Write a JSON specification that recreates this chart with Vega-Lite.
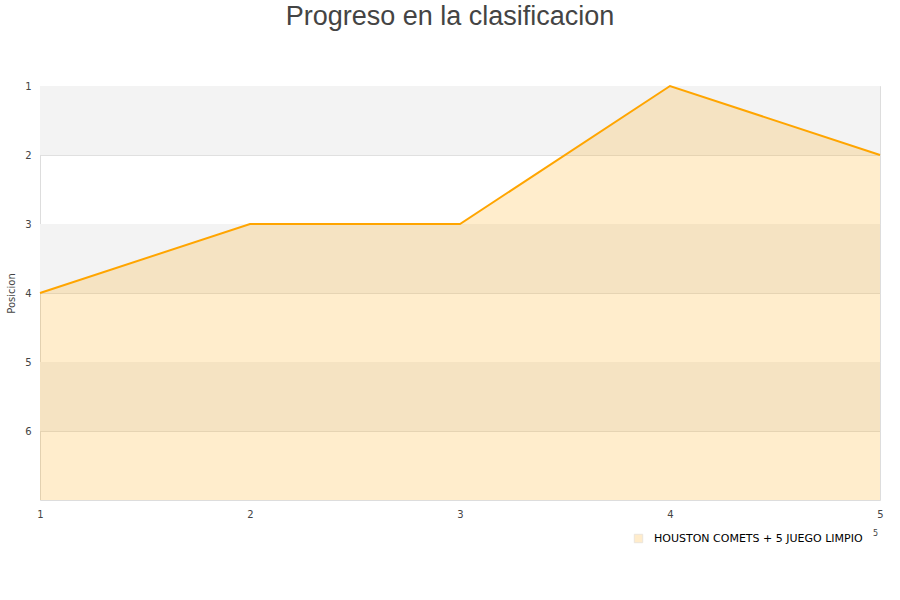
{
  "$schema": "https://vega.github.io/schema/vega-lite/v6.json",
  "autosize": {"type": "none"},
  "width": 840,
  "height": 414,
  "padding": {"left": 40, "top": 86, "right": 20, "bottom": 100},
  "title": {
    "text": "Progreso en la clasificacion",
    "font": "Liberation Sans",
    "fontSize": 27,
    "fontWeight": "normal",
    "color": "#444444",
    "anchor": "middle",
    "dx": -10,
    "offset": 50
  },
  "config": {
    "view": {"stroke": "#dddddd", "strokeWidth": 1},
    "axis": {
      "labelFont": "DejaVu Sans",
      "labelFontSize": 10,
      "labelColor": "#444444",
      "titleFont": "DejaVu Sans",
      "titleFontWeight": "normal",
      "titleColor": "#444444",
      "domain": false,
      "ticks": false,
      "format": "d"
    }
  },
  "data": {
    "values": [
      {"jornada": 1, "posicion": 4, "equipo": "HOUSTON COMETS + 5 JUEGO LIMPIO"},
      {"jornada": 2, "posicion": 3, "equipo": "HOUSTON COMETS + 5 JUEGO LIMPIO"},
      {"jornada": 3, "posicion": 3, "equipo": "HOUSTON COMETS + 5 JUEGO LIMPIO"},
      {"jornada": 4, "posicion": 1, "equipo": "HOUSTON COMETS + 5 JUEGO LIMPIO"},
      {"jornada": 5, "posicion": 2, "equipo": "HOUSTON COMETS + 5 JUEGO LIMPIO"}
    ]
  },
  "layer": [
    {
      "data": {"values": [{"desde": 1, "hasta": 2}, {"desde": 3, "hasta": 4}, {"desde": 5, "hasta": 6}]},
      "mark": {"type": "rect", "color": "#f3f3f3"},
      "encoding": {
        "y": {"field": "desde", "type": "quantitative", "scale": {"domain": [1, 7], "reverse": true}},
        "y2": {"field": "hasta"}
      }
    },
    {
      "mark": {"type": "area", "color": "#FFA500", "opacity": 0.2},
      "encoding": {
        "x": {
          "field": "jornada",
          "type": "quantitative",
          "scale": {"domain": [1, 5], "nice": false},
          "axis": {
            "values": [1, 2, 3, 4, 5],
            "grid": false,
            "labelFlush": false,
            "labelPadding": 9,
            "title": "5",
            "titleFontSize": 8,
            "titleX": 835,
            "titleY": 29
          }
        },
        "y": {
          "field": "posicion",
          "type": "quantitative",
          "scale": {"domain": [1, 7], "reverse": true, "nice": false, "zero": false},
          "axis": {
            "values": [1, 2, 3, 4, 5, 6],
            "grid": true,
            "gridColor": "#e0e0e0",
            "labelFlush": false,
            "labelPadding": 9,
            "title": "Posicion",
            "titleFontSize": 10,
            "titlePadding": 8
          }
        },
        "y2": {"datum": 7},
        "color": {
          "field": "equipo",
          "type": "nominal",
          "scale": {"range": ["#FFA500"]},
          "legend": {
            "title": null,
            "orient": "none",
            "legendX": 593,
            "legendY": 447,
            "symbolType": "square",
            "symbolSize": 70,
            "symbolStrokeColor": "#a08050",
            "symbolStrokeWidth": 1,
            "labelOffset": 10,
            "labelLimit": 400,
            "labelFont": "DejaVu Sans",
            "labelFontSize": 11,
            "labelColor": "#000000",
            "encode": {
              "symbols": {
                "enter": {
                  "stroke": {"value": "#a08050"},
                  "strokeWidth": {"value": 1}
                },
                "update": {
                  "fill": {"value": "#FFEDCC"},
                  "stroke": {"value": "#a08050"},
                  "strokeWidth": {"value": 1},
                  "opacity": {"value": 1},
                  "strokeOpacity": {"value": 1}
                }
              }
            }
          }
        }
      }
    },
    {
      "mark": {"type": "line", "color": "#FFA500", "strokeWidth": 2},
      "encoding": {
        "x": {"field": "jornada", "type": "quantitative"},
        "y": {"field": "posicion", "type": "quantitative"}
      }
    }
  ]
}
